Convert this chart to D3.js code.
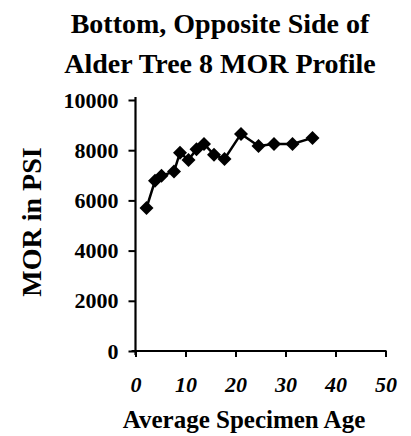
<!DOCTYPE html>
<html>
<head>
<meta charset="utf-8">
<script src="https://cdn.jsdelivr.net/npm/d3@7"></script>
<style>
  html, body { margin: 0; padding: 0; background: #fff; }
  svg { display: block; }
  text { font-family: "Liberation Serif", "Times New Roman", serif; font-weight: bold; fill: #000; }
</style>
</head>
<body>
<div id="chart"></div>
<script>
// 数据
const titleLines = ['Bottom, Opposite Side of', 'Alder Tree 8 MOR Profile'];
const ages = [2.2, 3.9, 5.2, 7.7, 8.9, 10.6, 12.2, 13.7, 15.7, 17.8, 21.1, 24.6, 27.7, 31.4, 35.4];
const morValues = [5700, 6780, 6980, 7150, 7900, 7610, 8040, 8250, 7820, 7650, 8650, 8170, 8250, 8250, 8490];
const xTicks = [0, 10, 20, 30, 40, 50];
const yTicks = [0, 2000, 4000, 6000, 8000, 10000];

const width = 411, height = 436;
const svg = d3.select('#chart').append('svg')
    .attr('width', width)
    .attr('height', height);

// 比例尺
const x = d3.scaleLinear().domain([0, 50]).range([135.5, 385.5]);
const y = d3.scaleLinear().domain([0, 10000]).range([351, 100]);

// 标题
svg.append('g')
    .selectAll('text')
    .data(titleLines)
    .enter()
    .append('text')
    .attr('x', 220)
    .attr('y', (d, i) => 33 + i * 40)
    .attr('text-anchor', 'middle')
    .style('font-size', '28px')
    .text(d => d);

// y轴
const yAxis = svg.append('g')
    .attr('transform', `translate(${x(0)},0)`)
    .call(d3.axisLeft(y).tickValues(yTicks).tickFormat(d3.format('d'))
        .tickSize(7).tickPadding(10).tickSizeOuter(0));
yAxis.select('.domain').attr('stroke-width', 2.2).attr('d', `M0,${y(10000) - 3}V${y(0) + 4}`);
yAxis.selectAll('.tick line').attr('stroke-width', 2);
yAxis.selectAll('.tick text').style('font-size', '22px').style('font-family', '"Liberation Serif", serif');

// x轴
const xAxis = svg.append('g')
    .attr('transform', `translate(0,${y(0)})`)
    .call(d3.axisBottom(x).tickValues(xTicks).tickFormat(d3.format('d'))
        .tickSize(6).tickPadding(19).tickSizeOuter(0));
xAxis.select('.domain').attr('stroke-width', 2.2).attr('d', `M${x(0) - 4},0H${x(50) + 1}`);
xAxis.selectAll('.tick line').attr('stroke-width', 2);
xAxis.selectAll('.tick text')
    .style('font-size', '22px')
    .style('font-style', 'italic')
    .style('font-family', '"Liberation Serif", serif');

// 轴标题
svg.append('text')
    .attr('x', 244)
    .attr('y', 428)
    .attr('text-anchor', 'middle')
    .style('font-size', '25px')
    .text('Average Specimen Age');

svg.append('text')
    .attr('transform', 'translate(41,222) rotate(-90)')
    .attr('text-anchor', 'middle')
    .style('font-size', '28px')
    .text('MOR in PSI');

// 折线
const points = ages.map((a, i) => ({ age: a, mor: morValues[i] }));
const line = d3.line().x(d => x(d.age)).y(d => y(d.mor));

svg.append('path')
    .datum(points)
    .attr('fill', 'none')
    .attr('stroke', '#000')
    .attr('stroke-width', 2.5)
    .attr('d', line);

// 菱形标记
const r = 7;
svg.append('g')
    .selectAll('path')
    .data(points)
    .enter()
    .append('path')
    .attr('transform', d => `translate(${x(d.age)},${y(d.mor)})`)
    .attr('d', `M0,${-r}L${r},0L0,${r}L${-r},0Z`)
    .attr('fill', '#000');
</script>
</body>
</html>
